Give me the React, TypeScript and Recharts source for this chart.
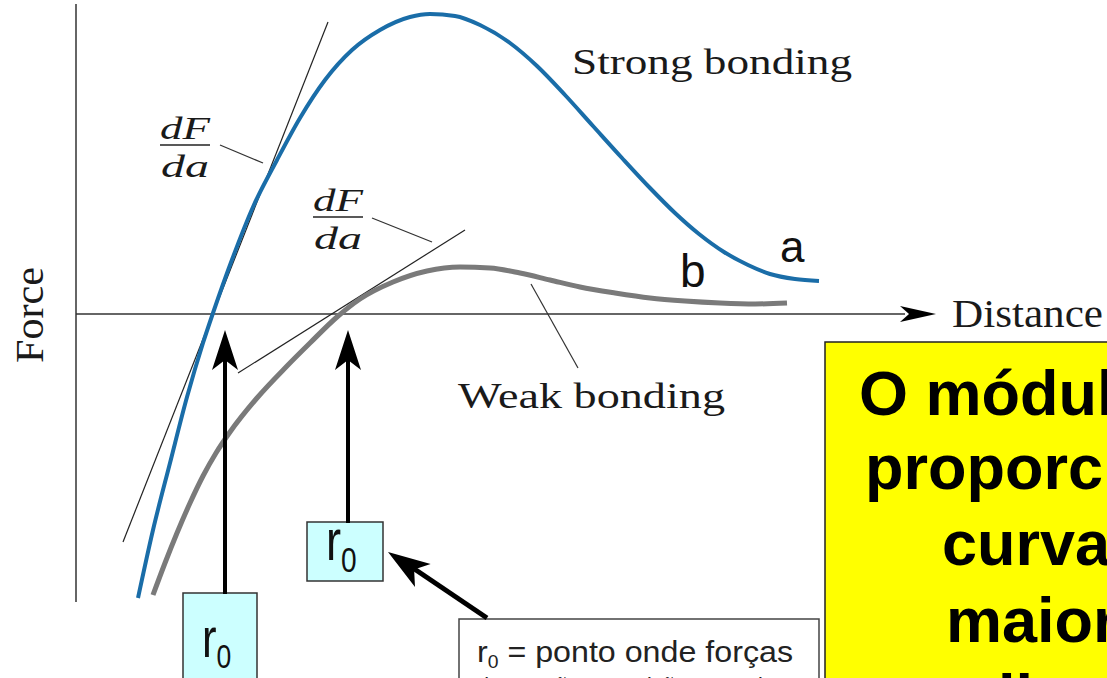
import { ComposedChart, Line, XAxis, YAxis, ReferenceLine, ReferenceArea, ReferenceDot } from 'recharts';

const W = 1107;
const H = 678;

// distance runs along the figure, force is measured up from the Distance axis
const strongDist = [138, 153, 170, 187, 203, 213, 233, 253, 277, 300, 325, 352, 380, 410, 430, 455, 480, 510, 537, 565, 593, 622, 650, 675, 699, 724, 748, 770, 795, 819];
const strongForce = [-284, -216, -149, -83, -29, 1, 57, 107, 154, 196, 234, 264, 284, 297, 300, 298, 289, 271, 248, 219, 188, 156, 126, 101, 80, 62, 49, 40, 35, 33];

const weakDist = [153, 165, 177, 190, 203, 216, 230, 257, 287, 310, 337, 360, 393, 427, 460, 490, 520, 550, 580, 615, 650, 685, 720, 755, 787];
const weakForce = [-281, -249, -219, -189, -162, -139, -118, -84, -52, -29, -3, 15, 32, 43, 47, 46, 41, 34, 27, 21, 16, 13, 11, 10, 11];

const tangentStrongDist = [123, 328];
const tangentStrongForce = [-228, 292];
const tangentWeakDist = [238, 465];
const tangentWeakForce = [-59, 84];

const r0Strong = 225;
const r0Weak = 348;

const noteLines = [
  'O módulo de elasticidade é',
  'proporcional à inclinação da',
  'curva no ponto r0:',
  'maior inclinação,',
  'ligação mais forte',
];

const toPoints = (xs: number[], ys: number[]) => xs.map((x, i) => ({ x, f: ys[i] }));

const strong = toPoints(strongDist, strongForce);
const weak = toPoints(weakDist, weakForce);
const tangentStrong = toPoints(tangentStrongDist, tangentStrongForce);
const tangentWeak = toPoints(tangentWeakDist, tangentWeakForce);

const serif = '"Liberation Serif", "Times New Roman", serif';
const sans = '"Liberation Sans", Arial, sans-serif';

// force value from a row on the figure (Distance axis sits at row 314)
const fy = (row: number) => 314 - row;

function arrowHead(angleDeg: number, len: number, half: number) {
  return (p: any) => {
    const a = (angleDeg * Math.PI) / 180;
    const ux = Math.cos(a);
    const uy = Math.sin(a);
    const bx = p.cx - ux * len;
    const by = p.cy - uy * len;
    const nx = -uy;
    const ny = ux;
    const mx = p.cx - ux * len * 0.75;
    const my = p.cy - uy * len * 0.75;
    const pts = [
      [p.cx, p.cy],
      [bx + nx * half, by + ny * half],
      [mx, my],
      [bx - nx * half, by - ny * half],
    ];
    return <polygon points={pts.map((q) => q.join(',')).join(' ')} fill="#000" />;
  };
}

function label(text: string, opts: any) {
  return (p: any) => (
    <text
      x={p.cx}
      y={p.cy}
      fontFamily={opts.family ?? serif}
      fontSize={opts.size}
      fontStyle={opts.italic ? 'italic' : 'normal'}
      fontWeight={opts.bold ? 'bold' : 'normal'}
      textAnchor={opts.anchor ?? 'start'}
      fill={opts.color ?? '#1a1a1a'}
      textLength={opts.len}
      lengthAdjust={opts.len ? 'spacingAndGlyphs' : undefined}
      transform={opts.rotate ? `rotate(${opts.rotate} ${p.cx} ${p.cy})` : undefined}
    >
      {text}
    </text>
  );
}

function r0Label(size: number, sub: number) {
  return (p: any) => (
    <g transform={`translate(${p.cx},${p.cy}) scale(0.78,1)`}>
      <text x={0} y={0} fontFamily={sans} fontSize={size} fill="#111">
        r
        <tspan dy={size * 0.2} fontSize={sub}>0</tspan>
      </text>
    </g>
  );
}

function fraction(cx: number, base: number) {
  return (
    <>
      <ReferenceDot x={cx} y={fy(base)} r={0} ifOverflow="visible" shape={label('dF', { size: 32, italic: true, anchor: 'middle', len: 50 })} />
      <ReferenceLine segment={[{ x: cx - 25, y: fy(base + 6) }, { x: cx + 25, y: fy(base + 6) }]} stroke="#222" strokeWidth={1.6} ifOverflow="visible" />
      <ReferenceDot x={cx} y={fy(base + 38)} r={0} ifOverflow="visible" shape={label('da', { size: 32, italic: true, anchor: 'middle', len: 48 })} />
    </>
  );
}

export default function App() {
  return (
    <div style={{ position: 'absolute', left: 0, top: 0, width: W, height: H, background: '#fff', overflow: 'hidden' }}>
      <ComposedChart width={W} height={H} margin={{ top: 0, right: 0, bottom: 0, left: 0 }}>
        <XAxis type="number" dataKey="x" domain={[0, W]} hide allowDataOverflow />
        <YAxis type="number" dataKey="f" domain={[fy(H), fy(0)]} hide allowDataOverflow />

        {/* axes of the sketch */}
        <ReferenceLine segment={[{ x: 76, y: fy(4) }, { x: 76, y: fy(602) }]} stroke="#333" strokeWidth={1.5} ifOverflow="visible" />
        <ReferenceLine segment={[{ x: 76, y: 0 }, { x: 905, y: 0 }]} stroke="#333" strokeWidth={1.5} ifOverflow="visible" />
        <ReferenceDot x={936} y={0} r={0} ifOverflow="visible" shape={arrowHead(0, 36, 8)} />

        <Line data={tangentStrong} dataKey="f" type="linear" stroke="#222" strokeWidth={1.2} dot={false} activeDot={false} isAnimationActive={false} />
        <Line data={tangentWeak} dataKey="f" type="linear" stroke="#222" strokeWidth={1.2} dot={false} activeDot={false} isAnimationActive={false} />
        <Line data={weak} dataKey="f" type="monotone" stroke="#7a7a7a" strokeWidth={5} dot={false} activeDot={false} isAnimationActive={false} />
        <Line data={strong} dataKey="f" type="monotone" stroke="#1a6da8" strokeWidth={4} dot={false} activeDot={false} isAnimationActive={false} />

        {/* leaders */}
        <ReferenceLine segment={[{ x: 220, y: fy(145) }, { x: 263, y: fy(163) }]} stroke="#333" strokeWidth={1.2} ifOverflow="visible" />
        <ReferenceLine segment={[{ x: 372, y: fy(218) }, { x: 432, y: fy(242) }]} stroke="#333" strokeWidth={1.2} ifOverflow="visible" />
        <ReferenceLine segment={[{ x: 531, y: fy(284) }, { x: 578, y: fy(368) }]} stroke="#333" strokeWidth={1.2} ifOverflow="visible" />

        {fraction(185, 139)}
        {fraction(338, 211)}

        <ReferenceDot x={572} y={fy(74)} r={0} ifOverflow="visible" shape={label('Strong bonding', { size: 36, len: 280 })} />
        <ReferenceDot x={458} y={fy(408)} r={0} ifOverflow="visible" shape={label('Weak bonding', { size: 36, len: 267 })} />
        <ReferenceDot x={952} y={fy(327)} r={0} ifOverflow="visible" shape={label('Distance', { size: 40, len: 151 })} />
        <ReferenceDot x={43} y={fy(315)} r={0} ifOverflow="visible" shape={label('Force', { size: 40, len: 96, anchor: 'middle', rotate: -90 })} />
        <ReferenceDot x={780} y={fy(262)} r={0} ifOverflow="visible" shape={label('a', { size: 44, family: sans, color: '#111' })} />
        <ReferenceDot x={680} y={fy(287)} r={0} ifOverflow="visible" shape={label('b', { size: 46, family: sans, color: '#111' })} />

        {/* r0 arrows and boxes */}
        <ReferenceLine segment={[{ x: r0Strong, y: fy(360) }, { x: r0Strong, y: fy(594) }]} stroke="#000" strokeWidth={4} ifOverflow="visible" />
        <ReferenceDot x={r0Strong} y={fy(330)} r={0} ifOverflow="visible" shape={arrowHead(-90, 40, 13)} />
        <ReferenceLine segment={[{ x: r0Weak, y: fy(360) }, { x: r0Weak, y: fy(523) }]} stroke="#000" strokeWidth={4} ifOverflow="visible" />
        <ReferenceDot x={r0Weak} y={fy(330)} r={0} ifOverflow="visible" shape={arrowHead(-90, 40, 13)} />

        <ReferenceArea x1={183} x2={257} y1={fy(593)} y2={fy(690)} fill="#ccffff" fillOpacity={1} stroke="#333" strokeWidth={1.5} ifOverflow="visible" />
        <ReferenceDot x={202} y={fy(657)} r={0} ifOverflow="visible" shape={r0Label(56, 34)} />
        <ReferenceArea x1={307} x2={383} y1={fy(522)} y2={fy(581)} fill="#ccffff" fillOpacity={1} stroke="#333" strokeWidth={1.5} ifOverflow="visible" />
        <ReferenceDot x={326} y={fy(560)} r={0} ifOverflow="visible" shape={r0Label(58, 36)} />

        <ReferenceLine segment={[{ x: 410, y: fy(566) }, { x: 487, y: fy(618) }]} stroke="#000" strokeWidth={5} ifOverflow="visible" />
        <ReferenceDot x={388} y={fy(552)} r={0} ifOverflow="visible" shape={arrowHead(-146, 42, 14)} />

        {/* definition note */}
        <ReferenceArea x1={459} x2={819} y1={fy(619)} y2={fy(700)} fill="#fff" fillOpacity={1} stroke="#444" strokeWidth={1.5} ifOverflow="visible" />
        <ReferenceDot x={477} y={fy(662)} r={0} ifOverflow="visible" shape={(p: any) => (
          <text x={p.cx} y={p.cy} fontFamily={sans} fontSize={30} fill="#222" textLength={316} lengthAdjust="spacingAndGlyphs">
            r<tspan dy={6} fontSize={18}>0</tspan><tspan dy={-6}> = ponto onde forças</tspan>
          </text>
        )} />
        <ReferenceDot x={477} y={fy(699)} r={0} ifOverflow="visible" shape={label('de atração e repulsão se anulam', { size: 30, family: sans, len: 316, color: '#222' })} />

        {/* yellow note */}
        <ReferenceArea x1={825} x2={1200} y1={fy(342)} y2={fy(720)} fill="#ffff00" fillOpacity={1} stroke="#222" strokeWidth={1.5} ifOverflow="visible" />
        <ReferenceDot x={859} y={fy(415)} r={0} ifOverflow="visible" shape={label(noteLines[0], { size: 63, family: sans, bold: true, color: '#000' })} />
        <ReferenceDot x={865} y={fy(489)} r={0} ifOverflow="visible" shape={label(noteLines[1], { size: 63, family: sans, bold: true, color: '#000' })} />
        <ReferenceDot x={942} y={fy(565)} r={0} ifOverflow="visible" shape={label(noteLines[2], { size: 63, family: sans, bold: true, color: '#000' })} />
        <ReferenceDot x={946} y={fy(642)} r={0} ifOverflow="visible" shape={label(noteLines[3], { size: 63, family: sans, bold: true, color: '#000' })} />
        <ReferenceDot x={998} y={fy(719)} r={0} ifOverflow="visible" shape={label(noteLines[4], { size: 63, family: sans, bold: true, color: '#000' })} />
      </ComposedChart>
    </div>
  );
}
